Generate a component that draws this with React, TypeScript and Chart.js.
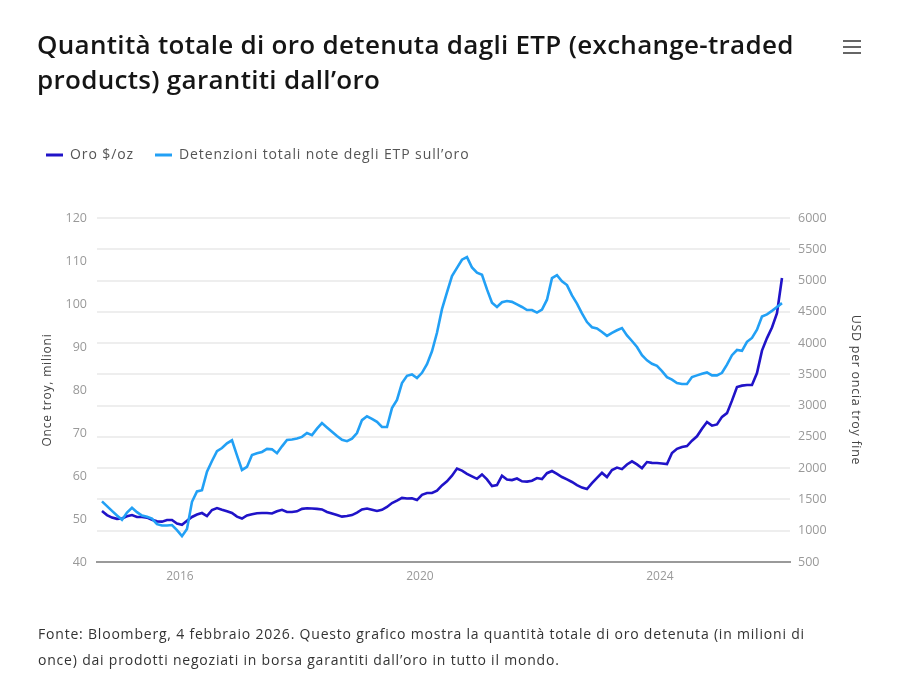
import React, { useEffect, useRef } from "react";
import { Chart, registerables } from "chart.js";

Chart.register(...registerables);

// Monthly observations (Sep 2014 – Jan 2026)
const months: string[] = [
  "2014-09", "2014-10", "2014-11", "2014-12",
  "2015-01", "2015-02", "2015-03", "2015-04", "2015-05", "2015-06", "2015-07", "2015-08", "2015-09", "2015-10", "2015-11", "2015-12",
  "2016-01", "2016-02", "2016-03", "2016-04", "2016-05", "2016-06", "2016-07", "2016-08", "2016-09", "2016-10", "2016-11", "2016-12",
  "2017-01", "2017-02", "2017-03", "2017-04", "2017-05", "2017-06", "2017-07", "2017-08", "2017-09", "2017-10", "2017-11", "2017-12",
  "2018-01", "2018-02", "2018-03", "2018-04", "2018-05", "2018-06", "2018-07", "2018-08", "2018-09", "2018-10", "2018-11", "2018-12",
  "2019-01", "2019-02", "2019-03", "2019-04", "2019-05", "2019-06", "2019-07", "2019-08", "2019-09", "2019-10", "2019-11", "2019-12",
  "2020-01", "2020-02", "2020-03", "2020-04", "2020-05", "2020-06", "2020-07", "2020-08", "2020-09", "2020-10", "2020-11", "2020-12",
  "2021-01", "2021-02", "2021-03", "2021-04", "2021-05", "2021-06", "2021-07", "2021-08", "2021-09", "2021-10", "2021-11", "2021-12",
  "2022-01", "2022-02", "2022-03", "2022-04", "2022-05", "2022-06", "2022-07", "2022-08", "2022-09", "2022-10", "2022-11", "2022-12",
  "2023-01", "2023-02", "2023-03", "2023-04", "2023-05", "2023-06", "2023-07", "2023-08", "2023-09", "2023-10", "2023-11", "2023-12",
  "2024-01", "2024-02", "2024-03", "2024-04", "2024-05", "2024-06", "2024-07", "2024-08", "2024-09", "2024-10", "2024-11", "2024-12",
  "2025-01", "2025-02", "2025-03", "2025-04", "2025-05", "2025-06", "2025-07", "2025-08", "2025-09", "2025-10", "2025-11", "2025-12",
  "2026-01",
];

// Oro $/oz (right axis)
const goldPrice: number[] = [
  1315, 1250, 1210, 1190, 1196, 1230, 1251, 1219, 1219, 1210, 1175, 1150,
  1145, 1171, 1171, 1115, 1095, 1160, 1220, 1260, 1283, 1235, 1331, 1363,
  1335, 1310, 1283, 1225, 1195, 1245, 1265, 1280, 1283, 1283, 1275, 1310,
  1335, 1299, 1299, 1310, 1350, 1360, 1355, 1350, 1340, 1300, 1275, 1250,
  1225, 1235, 1250, 1290, 1340, 1355, 1335, 1315, 1335, 1380, 1443, 1480,
  1525, 1515, 1520, 1490, 1575, 1603, 1603, 1640, 1725, 1790, 1880, 1995,
  1960, 1910, 1870, 1830, 1900, 1820, 1715, 1731, 1880, 1820, 1810, 1835,
  1790, 1785, 1800, 1843, 1827, 1920, 1955, 1910, 1859, 1820, 1779, 1730,
  1690, 1667, 1760, 1845, 1925, 1859, 1971, 2010, 1985, 2060, 2110, 2060,
  2000, 2098, 2085, 2082, 2075, 2066, 2242, 2310, 2340, 2354, 2440, 2510,
  2630, 2738, 2680, 2700, 2820, 2880, 3080, 3298, 3320, 3330, 3330, 3522,
  3880, 4080, 4250, 4480, 5041,
];

// Detenzioni totali note degli ETP sull'oro, milioni di once (left axis)
const etpHoldings: number[] = [
  54.1, 53.0, 51.9, 50.8, 49.8, 51.5, 52.6, 51.6, 50.8, 50.5, 50.1, 48.8,
  48.5, 48.5, 48.6, 47.4, 46.0, 47.7, 54.0, 56.4, 56.7, 61.0, 63.5, 65.8,
  66.5, 67.6, 68.3, 64.8, 61.4, 62.1, 64.9, 65.3, 65.6, 66.3, 66.2, 65.3,
  66.9, 68.4, 68.5, 68.7, 69.1, 70.0, 69.5, 71.0, 72.3, 71.3, 70.3, 69.3,
  68.4, 68.1, 68.7, 70.0, 73.0, 73.9, 73.3, 72.6, 71.4, 71.4, 75.8, 77.7,
  81.6, 83.3, 83.6, 82.8, 84.0, 86.0, 89.0, 93.3, 98.8, 102.7, 106.5, 108.4,
  110.3, 110.9, 108.5, 107.3, 106.8, 103.4, 100.3, 99.3, 100.4, 100.7, 100.5, 99.9,
  99.3, 98.6, 98.6, 98.0, 98.7, 101.0, 106.0, 106.7, 105.3, 104.4, 102.0, 100.1,
  97.8, 95.8, 94.6, 94.3, 93.5, 92.6, 93.3, 93.9, 94.4, 92.7, 91.4, 90.0,
  88.1, 86.9, 86.1, 85.6, 84.4, 83.0, 82.4, 81.6, 81.4, 81.4, 83.0, 83.4,
  83.8, 84.1, 83.4, 83.4, 84.0, 85.9, 88.1, 89.3, 89.1, 91.2, 92.1, 94.0,
  97.1, 97.6, 98.4, 99.3, 100.2,
];

const xTickYears: number[] = [2016, 2020, 2024];
const leftAxisTicks: number[] = [40, 50, 60, 70, 80, 90, 100, 110, 120];
const rightAxisTicks: number[] = [500, 1000, 1500, 2000, 2500, 3000, 3500, 4000, 4500, 5000, 5500, 6000];

const seriesNames = ["Oro $/oz", "Detenzioni totali note degli ETP sull\u2019oro"];
const titleLines = [
  "Quantit\u00e0 totale di oro detenuta dagli ETP (exchange-traded",
  "products) garantiti dall\u2019oro",
];
const footerLines = [
  "Fonte: Bloomberg, 4 febbraio 2026. Questo grafico mostra la quantit\u00e0 totale di oro detenuta (in milioni di",
  "once) dai prodotti negoziati in borsa garantiti dall\u2019oro in tutto il mondo.",
];

const GOLD_COLOR = "#2013c8";
const ETP_COLOR = "#22a0f5";
const FONT = "'Open Sans', 'Noto Sans', sans-serif";

const monthToYear = (label: string): number => {
  const [y, m] = label.split("-").map(Number);
  return y + (m - 0.6) / 12;
};

const withSpacing = (ctx: any, spacing: string, fn: () => void) => {
  const prev = ctx.letterSpacing;
  ctx.letterSpacing = spacing;
  try {
    fn();
  } finally {
    ctx.letterSpacing = prev !== undefined ? prev : "0px";
  }
};

export default function App() {
  const canvasRef = useRef<HTMLCanvasElement | null>(null);

  useEffect(() => {
    const canvas = canvasRef.current;
    if (!canvas) return;

    const textTweaks = {
      id: "textTweaks",
      beforeInit(chart: any) {
        const legend = chart.legend;
        if (!legend || legend.__patched) return;
        const origFit = legend.fit;
        const origDraw = legend.draw;
        legend.fit = function () {
          withSpacing(this.ctx, "0.9px", () => origFit.call(this));
          this.height = 91;
        };
        legend.draw = function () {
          withSpacing(this.ctx, "0.9px", () => origDraw.call(this));
        };
        legend.__patched = true;
      },
      afterLayout(chart: any) {
        const spec: Record<string, string> = { y: "0.8px", y2: "0.7px" };
        Object.keys(spec).forEach((id) => {
          const sc = chart.scales[id];
          if (!sc || sc.__titlePatched) return;
          const orig = sc.drawTitle;
          sc.drawTitle = function () {
            withSpacing(this.ctx, spec[id], () => orig.call(this));
          };
          sc.__titlePatched = true;
        });
      },
    };

    const chart = new Chart(canvas, {
      type: "line",
      data: {
        datasets: [
          {
            label: seriesNames[0],
            data: months.map((m, i) => ({ x: monthToYear(m), y: goldPrice[i] })),
            yAxisID: "y2",
            borderColor: GOLD_COLOR,
            backgroundColor: GOLD_COLOR,
            borderWidth: 2.6,
            pointRadius: 0,
            tension: 0,
            order: 2,
          },
          {
            label: seriesNames[1],
            data: months.map((m, i) => ({ x: monthToYear(m), y: etpHoldings[i] })),
            yAxisID: "y",
            borderColor: ETP_COLOR,
            backgroundColor: ETP_COLOR,
            borderWidth: 2.6,
            pointRadius: 0,
            tension: 0,
            order: 1,
          },
        ],
      },
      options: {
        animation: false,
        responsive: false,
        devicePixelRatio: 1,
        layout: { padding: { left: 25, top: 127, right: 32, bottom: 102 } },
        plugins: {
          tooltip: { enabled: false },
          legend: {
            position: "top",
            align: "start",
            labels: {
              boxWidth: 17,
              boxHeight: 3,
              padding: 21,
              color: "#555",
              font: { family: FONT, size: 14 },
              sort: (a: any, b: any) => a.datasetIndex - b.datasetIndex,
              generateLabels: (c: any) =>
                (Chart.defaults.plugins.legend.labels.generateLabels as any)(c).map((l: any) => ({
                  ...l,
                  lineWidth: 0,
                })),
            },
          },
        },
        scales: {
          x: {
            type: "linear",
            position: "bottom",
            min: 2014.617,
            max: 2026.167,
            afterBuildTicks: (s: any) => {
              s.ticks = xTickYears.map((v) => ({ value: v }));
            },
            afterFit: (s: any) => {
              s.height = 25;
            },
            ticks: {
              autoSkip: false,
              maxRotation: 0,
              padding: 7,
              color: "#999",
              font: { family: FONT, size: 12 },
              callback: (v: any) => String(v),
            },
            grid: { display: false, drawTicks: false },
            border: { display: true, color: "#9a9a9a", width: 2 },
          },
          y: {
            position: "left",
            min: 40,
            max: 120,
            afterBuildTicks: (s: any) => {
              s.ticks = leftAxisTicks.map((v) => ({ value: v }));
            },
            afterFit: (s: any) => {
              s.width = 72;
            },
            ticks: {
              padding: 10,
              color: "#999",
              font: { family: FONT, size: 12.5 },
              callback: (v: any) => String(v),
            },
            grid: { display: false, drawTicks: false },
            border: { display: false },
            title: {
              display: true,
              text: "Once troy, milioni",
              color: "#444",
              font: { family: FONT, size: 12 },
              padding: { top: 15, bottom: 0 },
            },
          },
          y2: {
            position: "right",
            min: 500,
            max: 6000,
            afterBuildTicks: (s: any) => {
              s.ticks = rightAxisTicks.map((v) => ({ value: v }));
            },
            afterFit: (s: any) => {
              s.width = 78;
            },
            ticks: {
              padding: 8,
              color: "#999",
              font: { family: FONT, size: 12.5 },
              callback: (v: any) => String(v),
            },
            grid: {
              display: true,
              drawTicks: false,
              lineWidth: 2,
              color: (ctx: any) => (ctx.tick && ctx.tick.value === 500 ? "rgba(0,0,0,0)" : "#eeeeee"),
            },
            border: { display: false },
            title: {
              display: true,
              text: "USD per oncia troy fine",
              color: "#444",
              font: { family: FONT, size: 12.5 },
              padding: { top: 5, bottom: 0 },
            },
          },
        },
      },
      plugins: [textTweaks],
    } as any);

    return () => {
      chart.destroy();
    };
  }, []);

  return (
    <div
      style={{
        position: "absolute",
        left: 0,
        top: 0,
        width: 900,
        height: 689,
        background: "#fff",
        overflow: "hidden",
      }}
    >
      <canvas
        ref={canvasRef}
        width={900}
        height={689}
        style={{ position: "absolute", left: 0, top: 0, width: 900, height: 689 }}
      />
      <div
        style={{
          position: "absolute",
          left: 37,
          top: 27,
          width: 820,
          fontFamily: "'Open Sans', 'Noto Sans', sans-serif",
          fontWeight: 600,
          fontSize: 26,
          lineHeight: "35px",
          color: "#151515",
          letterSpacing: "0.3px",
          whiteSpace: "nowrap",
        }}
      >
        {titleLines.map((t, i) => (
          <div key={i}>{t}</div>
        ))}
      </div>
      <div style={{ position: "absolute", left: 843, top: 40, width: 18 }}>
        {[0, 1, 2].map((k) => (
          <div
            key={k}
            style={{ position: "absolute", left: 0, top: k * 6, width: 18, height: 2, background: "#666" }}
          />
        ))}
      </div>
      <div
        style={{
          position: "absolute",
          left: 38,
          top: 621,
          width: 850,
          fontFamily: "'Open Sans', 'Noto Sans', sans-serif",
          fontSize: 14,
          lineHeight: "26px",
          color: "#333",
          letterSpacing: "0.8px",
          whiteSpace: "nowrap",
        }}
      >
        {footerLines.map((t, i) => (
          <div key={i}>{t}</div>
        ))}
      </div>
    </div>
  );
}
